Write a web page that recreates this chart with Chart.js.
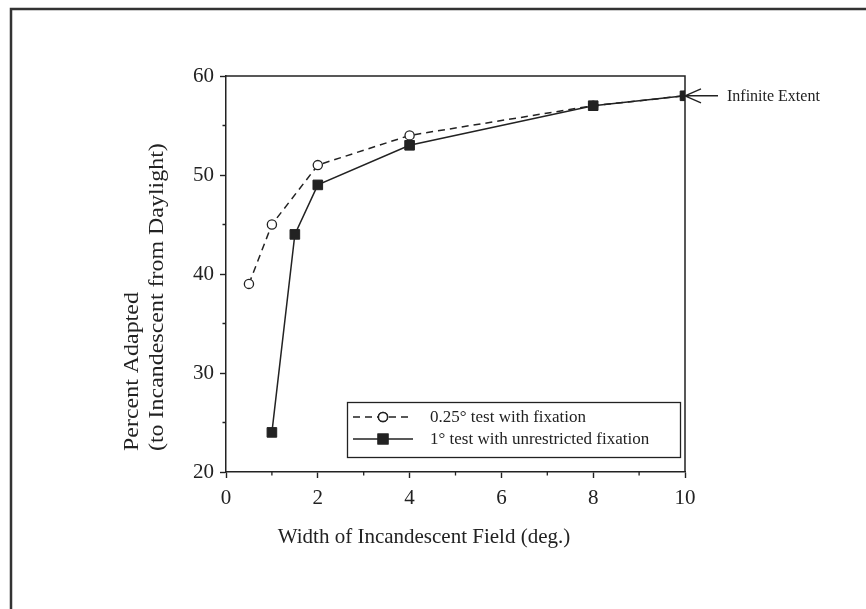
<!DOCTYPE html>
<html>
<head>
<meta charset="utf-8">
<script src="https://cdn.jsdelivr.net/npm/chart.js@4.4.1/dist/chart.umd.min.js"></script>
<style>
  html, body { margin: 0; padding: 0; background: #fff; }
  #wrap { width: 866px; height: 609px; }
</style>
</head>
<body>
<div id="wrap"><canvas id="adaptChart" width="866" height="609"></canvas></div>
<script>
// values
const fixationX = [0.5, 1, 2, 4, 8, 10];
const fixationY = [39, 45, 51, 54, 57, 58];
const unrestrictedX = [1, 1.5, 2, 4, 8, 10];
const unrestrictedY = [24, 44, 49, 53, 57, 58];
const xTickLabels = [0, 2, 4, 6, 8, 10];
const yTickLabels = [20, 30, 40, 50, 60];
const seriesLabels = ['0.25\u00b0 test with fixation', '1\u00b0 test with unrestricted fixation'];
const xTitle = 'Width of Incandescent Field (deg.)';
const yTitle = ['Percent Adapted', '(to Incandescent from Daylight)'];
const noteText = 'Infinite Extent';

const ink = '#222';
const serif = '"Liberation Serif", "DejaVu Serif", serif';

function zip(xs, ys) {
    return xs.map((x, i) => ({ x: x, y: ys[i] }));
}

// box, frame, minor ticks, titles, legend and the arrow note
const decorations = {
    id: 'decorations',
    afterDraw(chart) {
        const ctx = chart.ctx;
        const area = chart.chartArea;
        const xs = chart.scales.x;
        const ys = chart.scales.y;
        ctx.save();
        ctx.strokeStyle = ink;
        ctx.fillStyle = ink;

        // outer frame (top and left edges)
        ctx.lineWidth = 2.5;
        ctx.strokeStyle = '#333';
        ctx.beginPath();
        ctx.moveTo(11, 609);
        ctx.lineTo(11, 9);
        ctx.lineTo(866, 9);
        ctx.stroke();

        // plot box top and right
        ctx.strokeStyle = ink;
        ctx.lineWidth = 1.5;
        ctx.beginPath();
        ctx.moveTo(area.left, area.top);
        ctx.lineTo(area.right, area.top);
        ctx.lineTo(area.right, area.bottom);
        ctx.stroke();

        // minor ticks
        ctx.lineWidth = 1.3;
        ctx.beginPath();
        for (let v = 1; v < 10; v += 2) {
            const px = xs.getPixelForValue(v);
            ctx.moveTo(px, area.bottom);
            ctx.lineTo(px, area.bottom + 3.5);
        }
        for (let v = 25; v < 60; v += 10) {
            const py = ys.getPixelForValue(v);
            ctx.moveTo(area.left, py);
            ctx.lineTo(area.left - 3.5, py);
        }
        ctx.stroke();

        // axis titles
        ctx.font = '21px ' + serif;
        ctx.textAlign = 'center';
        ctx.textBaseline = 'alphabetic';
        ctx.fillText(xTitle, 424, 543);

        ctx.textAlign = 'left';
        ctx.textBaseline = 'middle';
        [132, 157].forEach((cx, i) => {
            ctx.save();
            ctx.translate(cx, 451);
            ctx.rotate(-Math.PI / 2);
            ctx.scale(1.14, 1);
            ctx.fillText(yTitle[i], 0, 0);
            ctx.restore();
        });

        // legend box
        const lx = 347, ly = 402, lw = 333, lh = 55;
        ctx.lineWidth = 1.3;
        ctx.strokeRect(lx + 0.5, ly + 0.5, lw, lh);
        ctx.font = '17px ' + serif;
        ctx.textBaseline = 'middle';
        chart.data.datasets.forEach((ds, i) => {
            const ry = ly + 15 + i * 22;
            ctx.save();
            ctx.lineWidth = ds.borderWidth;
            ctx.setLineDash(ds.borderDash || []);
            ctx.beginPath();
            ctx.moveTo(lx + 6, ry);
            ctx.lineTo(lx + 66, ry);
            ctx.stroke();
            ctx.setLineDash([]);
            Chart.helpers.drawPoint(ctx, {
                pointStyle: ds.pointStyle,
                radius: ds.pointRadius,
                borderWidth: ds.pointBorderWidth
            }, lx + 36, ry);
            ctx.fillStyle = ds.pointBackgroundColor;
            ctx.fill();
            ctx.strokeStyle = ink;
            ctx.stroke();
            ctx.restore();
            ctx.fillStyle = ink;
            ctx.fillText(ds.label, lx + 83, ry + 1);
        });

        // arrow to the last point
        const last = fixationX.length - 1;
        const ax = xs.getPixelForValue(fixationX[last]);
        const ay = ys.getPixelForValue(fixationY[last]);
        ctx.lineWidth = 1.4;
        ctx.beginPath();
        ctx.moveTo(ax, ay);
        ctx.lineTo(ax + 33, ay);
        ctx.moveTo(ax, ay);
        ctx.lineTo(ax + 16, ay - 7);
        ctx.moveTo(ax, ay);
        ctx.lineTo(ax + 16, ay + 7);
        ctx.stroke();
        ctx.font = '16px ' + serif;
        ctx.textAlign = 'left';
        ctx.fillText(noteText, ax + 42, ay + 1);

        ctx.restore();
    }
};

const ctx = document.getElementById('adaptChart').getContext('2d');
new Chart(ctx, {
    type: 'line',
    data: {
        datasets: [{
            label: seriesLabels[0],
            data: zip(fixationX, fixationY),
            borderColor: ink,
            borderWidth: 1.5,
            borderDash: [7, 5],
            pointStyle: 'circle',
            pointRadius: 4.6,
            pointBackgroundColor: '#fff',
            pointBorderColor: ink,
            pointBorderWidth: 1.3,
            tension: 0,
            order: 1
        }, {
            label: seriesLabels[1],
            data: zip(unrestrictedX, unrestrictedY),
            borderColor: ink,
            borderWidth: 1.5,
            pointStyle: 'rect',
            pointRadius: 6.8,
            pointBackgroundColor: ink,
            pointBorderColor: ink,
            pointBorderWidth: 1,
            tension: 0,
            order: 0
        }]
    },
    options: {
        responsive: false,
        animation: false,
        layout: {
            padding: { left: 100, right: 181, top: 76, bottom: 77 }
        },
        plugins: {
            legend: { display: false },
            tooltip: { enabled: false }
        },
        scales: {
            x: {
                type: 'linear',
                min: 0,
                max: 10,
                afterFit: s => { s.height = 60; },
                afterBuildTicks: s => { s.ticks = xTickLabels.map(v => ({ value: v })); },
                ticks: {
                    color: ink,
                    padding: 8,
                    maxRotation: 0,
                    font: { family: serif, size: 21 }
                },
                grid: {
                    drawOnChartArea: false,
                    drawTicks: true,
                    tickLength: 6,
                    tickColor: ink,
                    tickWidth: 1.4
                },
                border: { color: ink, width: 1.5 }
            },
            y: {
                min: 20,
                max: 60,
                afterFit: s => { s.width = 126; },
                afterBuildTicks: s => { s.ticks = yTickLabels.map(v => ({ value: v })); },
                ticks: {
                    color: ink,
                    padding: 6,
                    font: { family: serif, size: 21 }
                },
                grid: {
                    drawOnChartArea: false,
                    drawTicks: true,
                    tickLength: 6,
                    tickColor: ink,
                    tickWidth: 1.4
                },
                border: { color: ink, width: 1.5 }
            }
        }
    },
    plugins: [decorations]
});
</script>
</body>
</html>
